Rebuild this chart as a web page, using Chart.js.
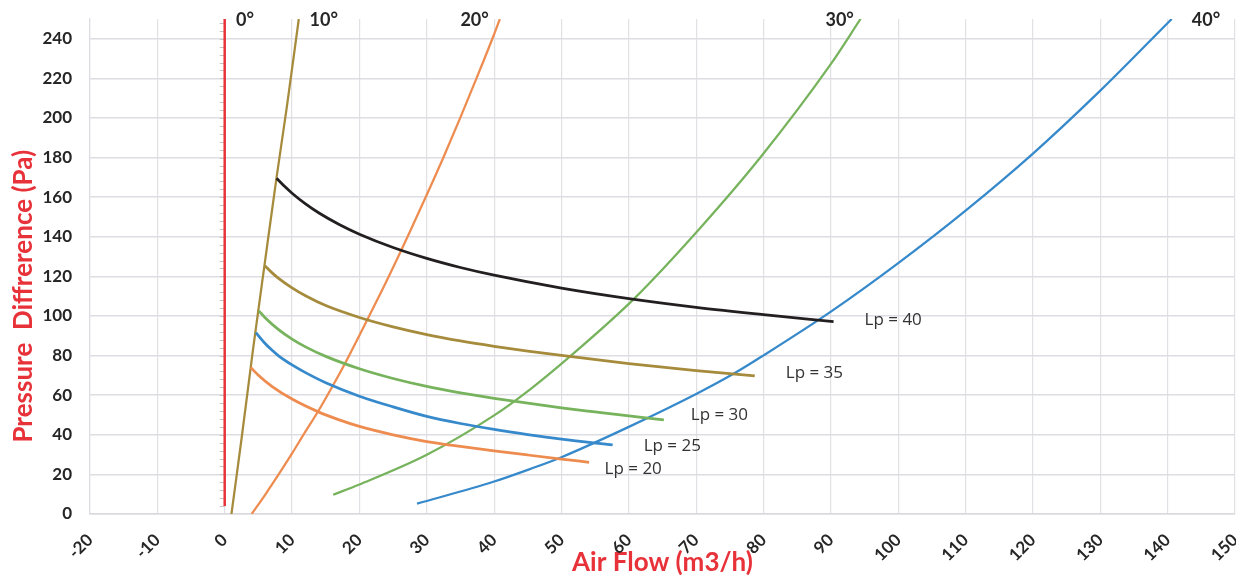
<!DOCTYPE html>
<html>
<head>
<meta charset="utf-8">
<script src="https://cdn.jsdelivr.net/npm/chart.js@4.4.1/dist/chart.umd.min.js"></script>
<style>
html,body{margin:0;padding:0;background:#fff;}
#c{display:block;}
</style>
</head>
<body>
<canvas id="c" width="1236" height="578"></canvas>
<script>
// ---- axis ranges / ticks ----
const xMin = -20, xMax = 150, xStep = 10;
const yMin = 0, yMax = 250, yStep = 20;
const minorTickStep = 4;

// ---- damper opening curves (Air Flow m3/h vs Pressure Pa) ----
const line0X  = [0, 0];
const line0Y  = [4, 250];
const line10X = [1.0, 2.5, 4.2, 6.0, 7.7, 9.2, 11.0];
const line10Y = [0, 38, 83, 128, 170, 205, 250];
const line20X = [4, 6, 8.2, 10, 12, 13.9, 16, 17.9, 21.3, 24, 26.3, 28, 30, 32.5, 35, 37.5, 40, 40.85];
const line20Y = [0, 9.7, 21, 30.6, 41.7, 52, 64.5, 76.3, 99, 117.4, 133.8, 146.3, 161.2, 180.3, 200.3, 221, 242.3, 250];
const line30X = [16.1, 20, 30, 40, 45.4, 51.1, 60.8, 70.4, 79.7, 89.9, 94.4];
const line30Y = [9.7, 14.9, 29.9, 49.8, 63.1, 79.1, 108.8, 143.7, 180.8, 226.8, 250];
const line40X = [28.55, 40, 45.4, 50, 60, 70, 75.8, 80, 90, 100, 110, 120, 130, 140.6];
const line40Y = [5.2, 16.4, 22.8, 28.7, 44, 60.6, 71.3, 80.1, 102.2, 126.7, 153.2, 182, 213.8, 250];

// ---- sound level (Lp) curves ----
const lp40X = [7.7, 9, 10, 12, 14, 17, 20, 25, 30, 35, 40, 50, 60, 70, 80, 90.4];
const lp40Y = [169.6, 165.1, 162.0, 156.6, 152.0, 146.2, 141.3, 134.6, 129.1, 124.5, 120.6, 114.1, 108.8, 104.4, 100.7, 97.2];
const lp35X = [5.95, 7, 8, 10, 12, 15, 20, 25, 30, 35, 40, 45, 50, 60, 70, 78.7];
const lp35Y = [125.4, 121.9, 119.0, 114.2, 110.2, 105.25, 99.25, 94.5, 90.6, 87.4, 84.7, 82.3, 80.1, 76.0, 72.4, 69.8];
const lp30X = [5.07, 6, 8, 10, 12, 15, 20, 25, 30, 35, 40, 45, 50, 55, 60, 65.2];
const lp30Y = [102.6, 99.1, 93.1, 88.3, 84.4, 79.6, 73.35, 68.45, 64.45, 61.2, 58.45, 55.95, 53.65, 51.55, 49.5, 47.5];
const lp25X = [4.63, 6, 7, 8, 10, 12, 15, 20, 25, 30, 35, 40, 45, 50, 57.6];
const lp25Y = [91.6, 86.1, 82.8, 79.9, 75.3, 71.4, 66.3, 59.5, 54.1, 49.3, 45.7, 42.7, 40.1, 37.8, 34.9];
const lp20X = [3.86, 5, 7, 10, 14, 17, 20, 25, 30, 35, 40, 45, 50, 54.1];
const lp20Y = [74, 70.1, 64.5, 58.05, 51.45, 47.55, 44.25, 40.0, 36.6, 34.1, 31.9, 29.8, 27.75, 26.1];

// ---- text annotations (anchored in data units) ----
const angleLabels = ['0°', '10°', '20°', '30°', '40°'];
const angleLabelX = [3.0, 14.7, 37.1, 91.3, 145.7];
const lpLabels = ['Lp = 40', 'Lp = 35', 'Lp = 30', 'Lp = 25', 'Lp = 20'];
const lpLabelX = [95.0, 83.3, 69.2, 62.2, 56.4];
const lpLabelY = [98, 71, 50, 34.5, 22.5];

const yTitle = 'Pressure  Diffrerence (Pa)';
const xTitle = 'Air Flow (m3/h)';
const yTitleCenterValue = 110;   // axis value the y-title is centred on

const COL = {
  red: '#E8323A', olive: '#A68B3C', orange: '#EE8C50',
  green: '#77B35C', blue: '#3689CB', black: '#231F20'
};

function pts(xs, ys) { return xs.map((x, i) => ({x: x, y: ys[i]})); }
function ds(xs, ys, color, width, mono, order) {
  return {
    data: pts(xs, ys), showLine: true, borderColor: color, backgroundColor: color,
    borderWidth: width, pointRadius: 0, pointHoverRadius: 0,
    cubicInterpolationMode: mono ? 'monotone' : 'default', tension: 0, order: order
  };
}

const bgPlugin = {
  id: 'bg',
  beforeDraw(chart) {
    const c = chart.ctx; c.save(); c.fillStyle = '#fff';
    c.fillRect(0, 0, chart.width, chart.height); c.restore();
  }
};

const minorTickPlugin = {
  id: 'minorTicks',
  beforeDatasetsDraw(chart) {
    const {ctx, scales: {x, y}} = chart;
    const x0 = x.getPixelForValue(0);
    ctx.save();
    ctx.strokeStyle = '#C4C4C8';
    ctx.lineWidth = 1;
    ctx.beginPath();
    for (let v = minorTickStep; v < yMax; v += minorTickStep) {
      const py = Math.round(y.getPixelForValue(v)) + 0.5;
      ctx.moveTo(x0 - 5, py); ctx.lineTo(x0, py);
    }
    ctx.stroke();
    ctx.restore();
  }
};

const labelPlugin = {
  id: 'labels',
  afterDatasetsDraw(chart) {
    const {ctx, scales: {x, y}} = chart;
    ctx.save();
    ctx.fillStyle = '#262626';
    ctx.font = 'bold 18px Lato';
    ctx.textAlign = 'center';
    ctx.textBaseline = 'middle';
    angleLabels.forEach((t, i) => {
      ctx.fillText(t, x.getPixelForValue(angleLabelX[i]), y.getPixelForValue(yMax) + 1);
    });
    ctx.font = '17px "Open Sans"';
    ctx.fillStyle = '#333333';
    ctx.textAlign = 'left';
    lpLabels.forEach((t, i) => {
      ctx.fillText(t, x.getPixelForValue(lpLabelX[i]), y.getPixelForValue(lpLabelY[i]));
    });
    ctx.restore();
  },
  afterDraw(chart) {
    const {ctx, scales: {y}} = chart;
    ctx.save();
    ctx.translate(y.left + 24, y.getPixelForValue(yTitleCenterValue));
    ctx.rotate(-Math.PI / 2);
    ctx.font = 'bold 26px Lato';
    ctx.fillStyle = COL.red;
    ctx.textAlign = 'center';
    ctx.textBaseline = 'middle';
    ctx.fillText(yTitle, 0, 0);
    ctx.restore();
  }
};

Chart.defaults.font.family = 'Lato';

new Chart(document.getElementById('c'), {
  type: 'scatter',
  data: {
    datasets: [
      ds(line0X, line0Y, COL.red, 2.5, false, 10),
      ds(line10X, line10Y, COL.olive, 2.25, true, 9),
      ds(line20X, line20Y, COL.orange, 2.25, true, 8),
      ds(line30X, line30Y, COL.green, 2.25, true, 7),
      ds(line40X, line40Y, COL.blue, 2.25, true, 6),
      ds(lp40X, lp40Y, COL.black, 2.75, true, 1),
      ds(lp35X, lp35Y, COL.olive, 2.75, true, 2),
      ds(lp30X, lp30Y, COL.green, 2.75, true, 3),
      ds(lp25X, lp25Y, COL.blue, 2.75, true, 4),
      ds(lp20X, lp20Y, COL.orange, 2.75, true, 5)
    ]
  },
  options: {
    responsive: false,
    animation: false,
    devicePixelRatio: 1,
    layout: { padding: { top: 19, right: 1, left: 0, bottom: 0 } },
    plugins: { legend: { display: false }, tooltip: { enabled: false } },
    events: [],
    scales: {
      x: {
        type: 'linear', min: xMin, max: xMax,
        ticks: {
          stepSize: xStep, minRotation: 45, maxRotation: 45, padding: 16,
          color: '#262626', font: { size: 17, weight: 'bold', family: 'Lato' }
        },
        grid: { color: '#E0E0E5', lineWidth: 1.2, drawTicks: false },
        border: { color: '#D9D9DE', width: 1.5 },
        title: {
          display: true, text: xTitle, color: COL.red,
          font: { size: 26, weight: 'bold', family: 'Lato' },
          padding: { top: 0, bottom: 0 }
        },
        afterFit(s) { s.height = 64; s.paddingLeft = 0; s.paddingRight = 0; }
      },
      y: {
        type: 'linear', min: yMin, max: yMax,
        ticks: {
          stepSize: yStep, includeBounds: false, padding: 18,
          color: '#262626', font: { size: 17, weight: 'bold', family: 'Lato' }
        },
        grid: { color: '#DDDDE3', lineWidth: 1.6, drawTicks: false },
        border: { color: '#DDDDE3', width: 1.2 },
        title: { display: false },
        afterFit(s) { s.width = 90; s.paddingTop = 0; s.paddingBottom = 0; }
      }
    }
  },
  plugins: [bgPlugin, minorTickPlugin, labelPlugin]
});
</script>
</body>
</html>
